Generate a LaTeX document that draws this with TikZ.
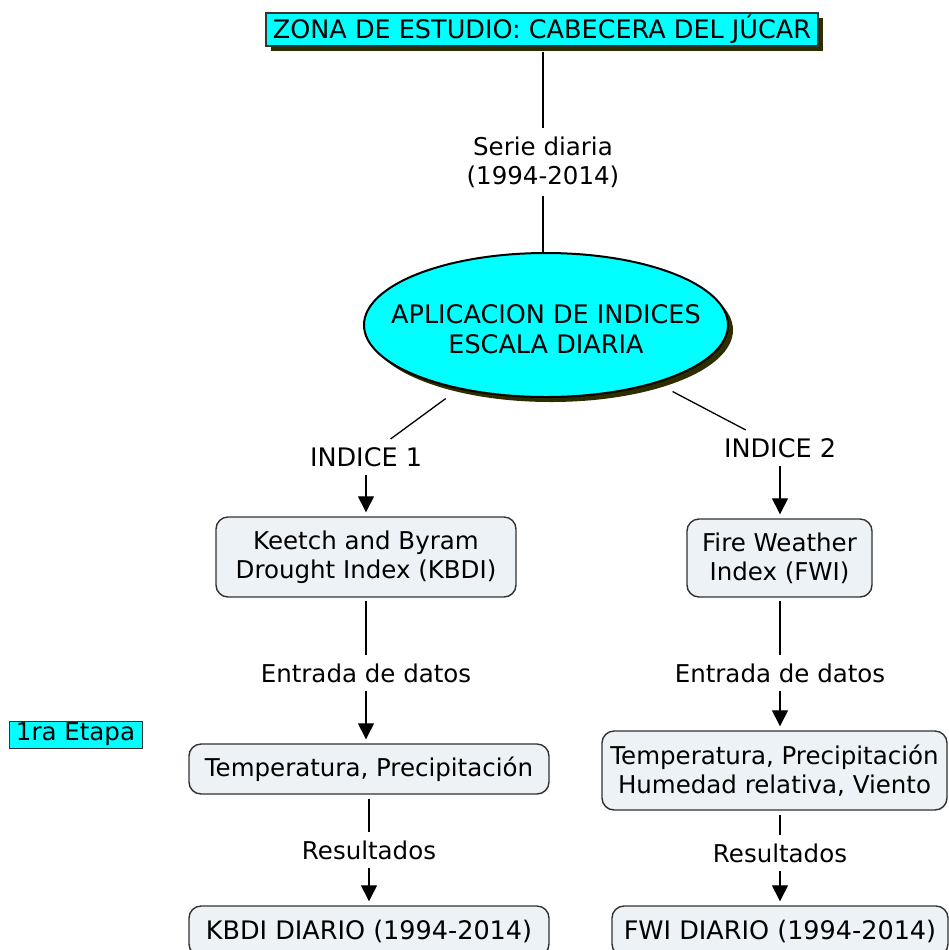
\documentclass[tikz,border=0pt]{standalone}
\usepackage{fontspec}
\setmainfont{DejaVu Sans}
\usetikzlibrary{shapes.geometric,shadows,arrows.meta}
\definecolor{cyanfill}{RGB}{0,255,255}
\definecolor{shadowc}{RGB}{45,45,0}
\definecolor{boxfill}{RGB}{236,242,245}
\definecolor{boxline}{RGB}{50,50,50}
\begin{document}
\begin{tikzpicture}[x=0.5pt,y=-0.5pt,
  txt/.style={font=\fontsize{12.25}{14.5}\selectfont, align=center},
  capt/.style={font=\fontsize{12.75}{15}\selectfont, align=center},
  lbl/.style={inner xsep=2pt, inner ysep=4pt},
  rbox/.style={draw=boxline, line width=0.7pt, fill=boxfill, rounded corners=6pt, inner sep=0pt},
  conn/.style={line width=0.65pt, draw=black},
  arr/.style={conn, -{Triangle[width=8pt,length=8pt]}},
  shad/.style={drop shadow={shadow xshift=2.5pt, shadow yshift=-2.5pt, fill=shadowc, opacity=1}},
]
\useasboundingbox (0,0) rectangle (949,950);
\clip (0,0) rectangle (949,950);

% nodes
\node[capt, draw=black!80, line width=0.6pt, fill=cyanfill, shad, minimum width=276pt, minimum height=16.5pt, inner sep=0pt] (title) at (542,29.5) {ZONA DE ESTUDIO: CABECERA DEL JÚCAR};
\node[txt, lbl] (serie) at (543,162) {Serie diaria\\(1994-2014)};
\node[ellipse, draw=black, line width=1pt, fill=cyanfill, shad, minimum width=182pt, minimum height=72pt, inner sep=0pt] (apl) at (546,325) {};
\node[capt] (apltxt) at (546,329) {APLICACION DE INDICES\\ESCALA DIARIA};
\node[capt, lbl] (ind1) at (366,457) {INDICE 1};
\node[capt, lbl] (ind2) at (780,448) {INDICE 2};
\node[txt, rbox, minimum width=150pt, minimum height=40pt] (kbdi) at (366,557) {Keetch and Byram\\Drought Index (KBDI)};
\node[txt, rbox, minimum width=92.5pt, minimum height=39pt] (fwi) at (779.5,558) {Fire Weather\\Index (FWI)};
\node[txt, lbl] (ent1) at (366,673) {Entrada de datos};
\node[txt, lbl] (ent2) at (780,673) {Entrada de datos};
\node[txt, rbox, minimum width=180pt, minimum height=25pt] (temp1) at (369,769) {Temperatura, Precipitación};
\node[txt, rbox, minimum width=172.5pt, minimum height=39.5pt] (temp2) at (774.5,770.5) {Temperatura, Precipitación\\Humedad relativa, Viento};
\node[txt, lbl] (res1) at (369,850) {Resultados};
\node[txt, lbl] (res2) at (780,853) {Resultados};
\node[capt, rbox, minimum width=180pt, minimum height=25pt] (kbdid) at (369,931) {KBDI DIARIO (1994-2014)};
\node[capt, rbox, minimum width=168pt, minimum height=25pt] (fwid) at (780,931) {FWI DIARIO (1994-2014)};
\node[txt, draw=boxline, line width=0.5pt, fill=cyanfill, minimum width=66.5pt, minimum height=13.5pt, inner sep=0pt] (etapa) at (75.5,734.5) {1ra Etapa};

% connectors
\draw[conn, shorten <=2.5pt] (title.south -| serie) -- (serie);
\draw[conn] (serie) -- (serie |- apl.north);
\draw[conn, shorten <=8pt] (apl) -- (ind1);
\draw[conn, shorten <=9pt] (apl) -- (ind2);
\draw[arr, shorten >=2pt] (ind1) -- (ind1 |- kbdi.north);
\draw[arr, shorten >=2pt] (ind2) -- (ind2 |- fwi.north);
\draw[conn, shorten <=1.5pt] (kbdi.south -| ent1) -- (ent1);
\draw[conn, shorten <=1.5pt] (fwi.south -| ent2) -- (ent2);
\draw[arr, shorten >=2pt] (ent1) -- (ent1 |- temp1.north);
\draw[arr, shorten >=2pt] (ent2) -- (ent2 |- temp2.north);
\draw[conn, shorten <=2pt] (temp1.south -| res1) -- (res1);
\draw[conn, shorten <=2pt] (temp2.south -| res2) -- (res2);
\draw[arr, shorten >=2pt] (res1) -- (res1 |- kbdid.north);
\draw[arr, shorten >=2pt] (res2) -- (res2 |- fwid.north);
\end{tikzpicture}
\end{document}
